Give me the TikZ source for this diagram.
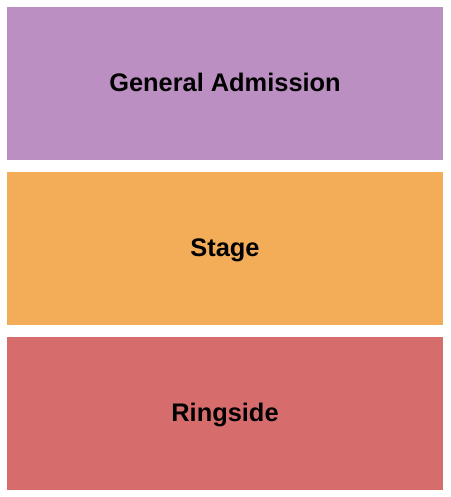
\documentclass[tikz,border=0pt]{standalone}
\usepackage{fontspec}
\setmainfont{Liberation Sans}
\usetikzlibrary{positioning}
\definecolor{gapurple}{RGB}{188,143,194}
\definecolor{stageorange}{RGB}{243,172,88}
\definecolor{ringred}{RGB}{215,108,108}
\tikzstyle{section}=[rectangle,draw=none,minimum width=436pt,minimum height=153pt,inner sep=0pt]
\tikzstyle{label} = [font=\fontsize{25.4}{30}\selectfont\bfseries, anchor=base, inner sep=0pt]

\begin{document}
\begin{tikzpicture}[x=1pt, y=-1pt]
    % Frame of the seating map
    \useasboundingbox (0,0) rectangle (450,497);

    % The three sections, one under the other
    \foreach \pos/\name/\label/\col in {{(225,83.5)/GA/General Admission/gapurple}, {(225,248.5)/ST/Stage/stageorange}, {(225,413.5)/RS/Ringside/ringred}}
        \node[section, fill=\col] (\name) at \pos {};

    % Section names, set on a common baseline below the centre
    \foreach \name/\label in {GA/General Admission, ST/Stage, RS/Ringside}
        \node[label, yshift=-8.3pt] (\name-text) at (\name.center) {\label};
\end{tikzpicture}
\end{document}
